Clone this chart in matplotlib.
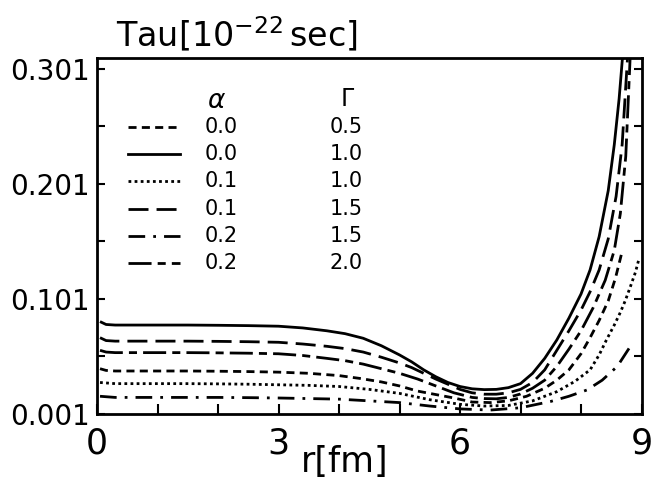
import matplotlib
matplotlib.use("Agg")
import matplotlib.pyplot as plt
from matplotlib.lines import Line2D

# ---- data ----
alpha_vals = ["0.0", "0.0", "0.1", "0.1", "0.2", "0.2"]
gamma_vals = ["0.5", "1.0", "1.0", "1.5", "1.5", "2.0"]

r_a00_g05 = [0.05, 0.15, 0.3, 0.6, 1, 1.5, 2, 2.5, 3, 3.5, 4.0, 4.35, 4.7, 5.0, 5.3, 5.6, 5.9, 6.2,
             6.5, 6.8, 7.1, 7.4, 7.6, 7.8, 8.0, 8.15, 8.3, 8.45, 8.57, 8.67]
tau_a00_g05 = [0.040, 0.0385, 0.038, 0.038, 0.038, 0.038, 0.0378, 0.0375, 0.037, 0.036, 0.034, 0.0315,
               0.0285, 0.025, 0.0205, 0.0175, 0.0145, 0.011, 0.0105, 0.012, 0.016, 0.023, 0.030, 0.039,
               0.053, 0.067, 0.082, 0.099, 0.119, 0.140]

r_a00_g10 = [0.05, 0.15, 0.3, 0.6, 1.0, 1.5, 2.0, 2.5, 3.0, 3.4, 3.8, 4.1, 4.4, 4.7, 5.0, 5.2, 5.4, 5.6,
             5.8, 6.0, 6.2, 6.4, 6.6, 6.8, 7.0, 7.2, 7.4, 7.6, 7.8, 8.0, 8.15, 8.3, 8.45, 8.55, 8.63, 8.7]
tau_a00_g10 = [0.081, 0.0785, 0.078, 0.078, 0.078, 0.078, 0.0778, 0.0775, 0.077, 0.0755, 0.073, 0.0705,
               0.0665, 0.060, 0.052, 0.046, 0.039, 0.033, 0.028, 0.0245, 0.0225, 0.0218, 0.022, 0.0235,
               0.027, 0.036, 0.049, 0.065, 0.084, 0.105, 0.126, 0.155, 0.195, 0.235, 0.275, 0.32]

r_a01_g10 = [0.05, 0.3, 0.6, 1, 1.5, 2, 2.5, 3, 3.5, 4.0, 4.5, 5.0, 5.5, 6.0, 6.4, 6.8, 7.2, 7.6, 7.9,
             8.15, 8.3, 8.42, 8.55, 8.65, 8.73, 8.82, 8.9, 8.96]
tau_a01_g10 = [0.028, 0.027, 0.027, 0.027, 0.027, 0.0268, 0.0265, 0.026, 0.0255, 0.0245, 0.022, 0.0185,
               0.013, 0.009, 0.0075, 0.008, 0.012, 0.020, 0.029, 0.039, 0.052, 0.065, 0.078, 0.089,
               0.099, 0.112, 0.124, 0.136]

r_a01_g15 = [0.05, 0.15, 0.3, 0.6, 1, 1.5, 2, 2.5, 3, 3.4, 3.8, 4.1, 4.4, 4.7, 5.0, 5.2, 5.4, 5.6, 5.8,
             6.0, 6.2, 6.4, 6.6, 6.8, 7.0, 7.2, 7.4, 7.6, 7.8, 8.0, 8.15, 8.3, 8.45, 8.58, 8.68, 8.78]
tau_a01_g15 = [0.067, 0.0645, 0.064, 0.064, 0.064, 0.064, 0.0638, 0.0635, 0.063, 0.0615, 0.0595, 0.0575,
               0.0545, 0.050, 0.045, 0.041, 0.036, 0.031, 0.0265, 0.022, 0.019, 0.0178, 0.0178, 0.019,
               0.022, 0.028, 0.039, 0.056, 0.073, 0.091, 0.107, 0.126, 0.153, 0.19, 0.235, 0.32]

r_a02_g15 = [0.05, 0.3, 0.6, 1, 1.5, 2, 2.5, 3, 3.5, 4.0, 4.5, 5.0, 5.5, 6.0, 6.5, 7.0, 7.5, 7.8, 8.1,
             8.35, 8.6, 8.81]
tau_a02_g15 = [0.016, 0.015, 0.015, 0.015, 0.015, 0.015, 0.0148, 0.0145, 0.014, 0.0135, 0.012, 0.0105,
               0.0075, 0.005, 0.004, 0.006, 0.0115, 0.016, 0.0215, 0.030, 0.042, 0.059]

r_a02_g20 = [0.05, 0.15, 0.3, 0.6, 1, 1.5, 2, 2.5, 3, 3.4, 3.8, 4.1, 4.4, 4.7, 5.0, 5.3, 5.6, 5.9, 6.2,
             6.4, 6.6, 6.8, 7.0, 7.2, 7.4, 7.6, 7.8, 8.0, 8.2, 8.4, 8.55, 8.65, 8.74, 8.82]
tau_a02_g20 = [0.056, 0.0545, 0.054, 0.054, 0.054, 0.054, 0.0538, 0.0535, 0.053, 0.0515, 0.049, 0.047,
               0.044, 0.040, 0.036, 0.031, 0.025, 0.019, 0.015, 0.014, 0.0138, 0.015, 0.018, 0.023,
               0.030, 0.042, 0.057, 0.073, 0.093, 0.117, 0.143, 0.175, 0.225, 0.32]

series_r = [r_a00_g05, r_a00_g10, r_a01_g10, r_a01_g15, r_a02_g15, r_a02_g20]
series_tau = [tau_a00_g05, tau_a00_g10, tau_a01_g10, tau_a01_g15, tau_a02_g15, tau_a02_g20]

x_tick_labels = ["0", "3", "6", "9"]
y_tick_labels = ["0.001", "0.101", "0.201", "0.301"]

# ---- styles ----
LW = 2.0
styles = [
    (0, (2.9, 1.9)),              # short dash
    "solid",                      # solid
    (0, (1.0, 1.2)),              # dotted
    (0, (7.2, 2.9)),              # long dash
    (0, (6.0, 2.9, 1.0, 2.9)),    # dash-dot
    (0, (8.3, 2.2, 2.9, 2.2)),    # long-short dash
]

plt.rcParams['font.family'] = ['DejaVu Sans']
fig = plt.figure(figsize=(6.55, 4.86), dpi=100)
ax = fig.add_axes([97 / 655, 1 - 413.5 / 486, (641.5 - 97) / 655, (413.5 - 58) / 486])

for r, t, ls in zip(series_r, series_tau, styles):
    ax.plot(r, t, color="black", lw=LW, linestyle=ls, solid_capstyle="butt", dash_capstyle="butt")

ax.set_xlim(0, 9)
ax.set_ylim(0.001, 0.3105)

ax.set_xticks([0, 3, 6, 9])
ax.set_xticklabels(x_tick_labels, fontsize=25)
ax.set_xticks([1, 2, 4, 5, 7, 8], minor=True)
ax.set_yticks([0.001, 0.101, 0.201, 0.301])
ax.set_yticklabels(y_tick_labels, fontsize=20)
ax.set_yticks([0.051, 0.151, 0.251], minor=True)

ax.tick_params(axis="x", which="both", direction="in", length=7, width=1.5, pad=9, top=False)
ax.tick_params(axis="y", which="both", direction="in", length=6, width=1.5, pad=5, right=True)
for sp in ax.spines.values():
    sp.set_linewidth(2.0)

# title / axis label
fig.text(116 / 655, 1 - 34 / 486, r"Tau$\left[10^{-22}\,\mathrm{sec}\right]$", fontsize=24,
         ha="left", va="center")
fig.text(345 / 655, 1 - 462 / 486, "r[fm]", fontsize=25, ha="center", va="center")

# legend table
fig.text(217 / 655, 1 - 101 / 486, r"$\alpha$", fontsize=19, ha="center", va="center")
fig.text(348 / 655, 1 - 99 / 486, r"$\Gamma$", fontsize=17, ha="center", va="center")
row_y = [127, 154, 181, 209, 236, 263]
for yy, ls, a, g in zip(row_y, styles, alpha_vals, gamma_vals):
    yf = 1 - yy / 486
    fig.add_artist(Line2D([128 / 655, 180 / 655], [yf, yf], color="black", lw=LW, linestyle=ls,
                          transform=fig.transFigure))
    fig.text(221 / 655, yf, a, fontsize=15, ha="center", va="center")
    fig.text(346 / 655, yf, g, fontsize=15, ha="center", va="center")

fig.savefig("out.png", dpi=100)
